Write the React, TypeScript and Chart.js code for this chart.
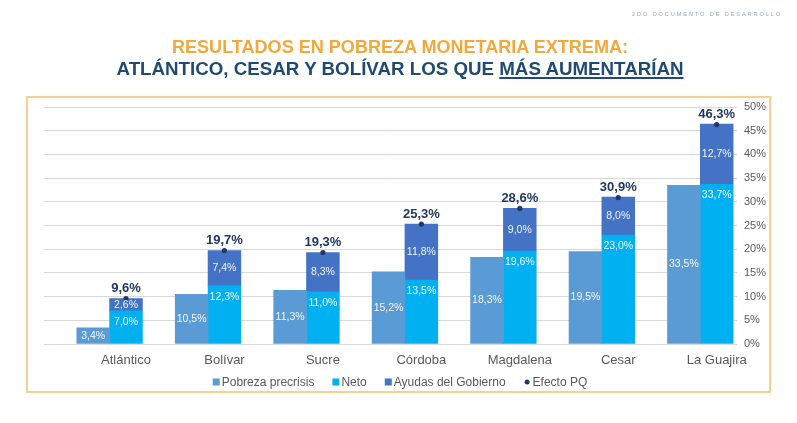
import React, { useEffect, useLayoutEffect, useRef } from "react";
import { Chart, registerables } from "chart.js";

Chart.register(...registerables);

// ---- data ----
const categories = ["Atlántico", "Bolívar", "Sucre", "Córdoba", "Magdalena", "Cesar", "La Guajira"];
const pobrezaPrecrisis = [3.4, 10.5, 11.3, 15.2, 18.3, 19.5, 33.5];
const neto = [7.0, 12.3, 11.0, 13.5, 19.6, 23.0, 33.7];
const ayudasGobierno = [2.6, 7.4, 8.3, 11.8, 9.0, 8.0, 12.7];
const efectoPQ = [9.6, 19.7, 19.3, 25.3, 28.6, 30.9, 46.3];
const yTicks = [0, 5, 10, 15, 20, 25, 30, 35, 40, 45, 50];
const seriesNames = ["Pobreza precrisis", "Neto", "Ayudas del Gobierno", "Efecto PQ"];
const titleLine1 = "RESULTADOS EN POBREZA MONETARIA EXTREMA:";
const titleLine2a = "ATLÁNTICO, CESAR Y BOLÍVAR LOS QUE ";
const titleLine2b = "MÁS AUMENTARÍAN";
const headerNote = "2DO DOCUMENTO DE DESARROLLO";

const COLORS = {
  pre: "#5B9BD5",
  neto: "#00B0F0",
  ayudas: "#4472C4",
  pq: "#1F3864",
};
const FONT = "'Liberation Sans', Arial, sans-serif";
const W = 797;
const H = 423;

const fmt = (v: number) => v.toFixed(1).replace(".", ",") + "%";

const labelsPlugin = {
  id: "barLabels",
  afterDatasetsDraw(chart: any) {
    const ctx = chart.ctx;
    ctx.save();
    ctx.textAlign = "center";
    ctx.textBaseline = "middle";
    const m0 = chart.getDatasetMeta(0);
    ctx.font = `10.5px ${FONT}`;
    ctx.fillStyle = "rgba(255,255,255,0.92)";
    m0.data.forEach((el: any, i: number) => {
      ctx.fillText(fmt(pobrezaPrecrisis[i]), el.x, (el.y + el.base) / 2);
    });
    const m1 = chart.getDatasetMeta(1);
    m1.data.forEach((el: any, i: number) => {
      ctx.fillText(fmt(neto[i]), el.x, el.y + 11);
    });
    const m2 = chart.getDatasetMeta(2);
    m2.data.forEach((el: any, i: number) => {
      ctx.fillText(fmt(ayudasGobierno[i]), el.x, (el.y + el.base) / 2);
    });
    const m4 = chart.getDatasetMeta(4);
    ctx.font = `bold 13px ${FONT}`;
    ctx.fillStyle = COLORS.pq;
    m4.data.forEach((el: any, i: number) => {
      ctx.fillText(fmt(efectoPQ[i]), el.x, el.y - 10);
    });
    ctx.restore();
  },
};

const legendPlugin = {
  id: "customLegend",
  afterDraw(chart: any) {
    const ctx = chart.ctx;
    ctx.save();
    ctx.font = `12px ${FONT}`;
    ctx.textBaseline = "middle";
    ctx.textAlign = "left";
    const colors = [COLORS.pre, COLORS.neto, COLORS.ayudas, COLORS.pq];
    const marker = 7;
    const markerGap = 2;
    const itemGap = 18;
    const widths = seriesNames.map((n) => marker + markerGap + ctx.measureText(n).width);
    const total = widths.reduce((a, b) => a + b, 0) + itemGap * (seriesNames.length - 1);
    let x = 400 - total / 2;
    const y = 382;
    seriesNames.forEach((n, i) => {
      ctx.fillStyle = colors[i];
      if (i === 3) {
        ctx.beginPath();
        ctx.arc(x + marker / 2, y, 2.5, 0, Math.PI * 2);
        ctx.fill();
      } else {
        ctx.fillRect(x, y - marker / 2, marker, marker);
      }
      ctx.fillStyle = "#595959";
      ctx.fillText(n, x + marker + markerGap, y + 0.5);
      x += widths[i] + itemGap;
    });
    ctx.restore();
  },
};

function FitText({ cx, top, width, style, children }: any) {
  const ref = useRef<HTMLDivElement>(null);
  useLayoutEffect(() => {
    const el = ref.current;
    if (!el) return;
    el.style.transform = "none";
    const w = el.getBoundingClientRect().width;
    const k = w > 0 ? width / w : 1;
    el.style.transform = `translateX(-50%) scaleX(${k})`;
  }, [width]);
  return (
    <div
      ref={ref}
      style={{
        position: "absolute",
        left: cx,
        top,
        whiteSpace: "nowrap",
        lineHeight: 1,
        transformOrigin: "50% 0",
        ...style,
      }}
    >
      {children}
    </div>
  );
}

export default function App() {
  const canvasRef = useRef<HTMLCanvasElement>(null);

  useEffect(() => {
    const canvas = canvasRef.current;
    if (!canvas) return;
    const xy = (arr: number[]) => arr.map((v, i) => ({ x: i, y: v }));
    const chart = new Chart(canvas, {
      type: "bar",
      data: {
        datasets: [
          { type: "bar", label: seriesNames[0], data: xy(pobrezaPrecrisis), backgroundColor: COLORS.pre, stack: "pre", borderWidth: 0 } as any,
          { type: "bar", label: seriesNames[1], data: xy(neto), backgroundColor: COLORS.neto, stack: "net", borderWidth: 0 } as any,
          { type: "bar", label: seriesNames[2], data: xy(ayudasGobierno), backgroundColor: COLORS.ayudas, stack: "net", borderWidth: 0 } as any,
          { type: "bar", label: "", data: xy(categories.map(() => 0)), backgroundColor: "rgba(0,0,0,0)", stack: "gap", borderWidth: 0 } as any,
          {
            type: "line",
            label: seriesNames[3],
            data: xy(efectoPQ),
            showLine: false,
            pointRadius: 2.6,
            pointBackgroundColor: COLORS.pq,
            pointBorderWidth: 0,
            borderColor: COLORS.pq,
            stack: "pq",
            order: -1,
          } as any,
        ],
      },
      options: {
        responsive: false,
        animation: false,
        devicePixelRatio: 1,
        datasets: { bar: { barPercentage: 1, categoryPercentage: 1 } },
        layout: { padding: { left: 44, right: 20, top: 107, bottom: 49 } },
        plugins: { legend: { display: false }, tooltip: { enabled: false } },
        scales: {
          x: {
            type: "linear",
            min: -0.833,
            max: 6.206,
            offset: false,
            grid: { display: false, drawTicks: false },
            border: { display: false },
            afterBuildTicks: (s: any) => {
              s.ticks = categories.map((_, i) => ({ value: i }));
            },
            afterFit: (s: any) => {
              s.height = 30;
            },
            ticks: {
              autoSkip: false,
              maxRotation: 0,
              padding: 9,
              color: "#595959",
              font: { family: FONT, size: 13 },
              callback: (_v: any, i: number) => categories[i],
            },
          },
          y: {
            position: "right",
            min: 0,
            max: 50,
            stacked: true,
            grid: { color: "#D9D9D9", drawTicks: false, lineWidth: 1 },
            border: { display: false },
            afterBuildTicks: (s: any) => {
              s.ticks = yTicks.map((v) => ({ value: v }));
            },
            afterFit: (s: any) => {
              s.width = 40;
            },
            ticks: {
              padding: 7,
              color: "#595959",
              font: { family: FONT, size: 11 },
              callback: (v: any) => v + "%",
            },
          },
        },
      } as any,
      plugins: [labelsPlugin, legendPlugin],
    });
    return () => chart.destroy();
  }, []);

  return (
    <div style={{ position: "absolute", left: 0, top: 0, width: W, height: H, background: "#fff", overflow: "hidden" }}>
      <canvas ref={canvasRef} width={W} height={H} style={{ position: "absolute", left: 0, top: 0, width: W, height: H }} />
      <div
        style={{
          position: "absolute",
          left: 26,
          top: 96,
          width: 745,
          height: 297,
          border: "2px solid #F6D08E",
          boxSizing: "border-box",
          pointerEvents: "none",
        }}
      />
      <FitText cx={707} top={11} width={150} style={{ fontFamily: FONT, fontSize: 6, letterSpacing: 2, color: "#8FAAC6" }}>
        {headerNote}
      </FitText>
      <FitText cx={400} top={37.5} width={456} style={{ fontFamily: FONT, fontSize: 18, fontWeight: 700, color: "#F2A93B" }}>
        {titleLine1}
      </FitText>
      <FitText cx={399.5} top={59.8} width={567} style={{ fontFamily: FONT, fontSize: 18, fontWeight: 700, color: "#1F4A72" }}>
        {titleLine2a}
        <span style={{ textDecoration: "underline", textDecorationThickness: 1.5, textUnderlineOffset: 2 }}>{titleLine2b}</span>
      </FitText>
    </div>
  );
}
